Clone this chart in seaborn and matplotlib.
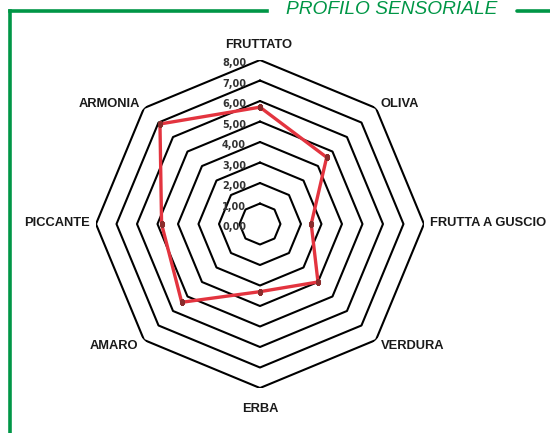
import numpy as np
import pandas as pd
import matplotlib
matplotlib.use("Agg")
import matplotlib.pyplot as plt
from matplotlib.lines import Line2D
import seaborn as sns

# data
categories = ["FRUTTATO", "OLIVA", "FRUTTA A GUSCIO", "VERDURA",
              "ERBA", "AMARO", "PICCANTE", "ARMONIA"]
values = [5.7, 4.6, 2.5, 4.0, 3.3, 5.4, 4.8, 6.9]
rings = [1, 2, 3, 4, 5, 6, 7, 8]
tick_labels = ["0,00", "1,00", "2,00", "3,00", "4,00", "5,00", "6,00", "7,00", "8,00"]
title = "PROFILO SENSORIALE"

GREEN = "#009646"
RED = "#e3343f"

sns.set_style("white")
plt.rcParams["font.family"] = ["Liberation Sans", "DejaVu Sans"]

fig = plt.figure(figsize=(5.5, 4.33), dpi=100)
ax = fig.add_axes([0.1745, 0.1039, 0.5964, 0.7575], projection="polar")
ax.set_theta_zero_location("N")
ax.set_theta_direction(-1)

n = len(categories)
theta = np.linspace(0, 2 * np.pi, n, endpoint=False)
theta_closed = np.append(theta, 2 * np.pi)

# octagonal grid
for k in rings:
    ax.plot(theta_closed, [k] * (n + 1), color="black", lw=1.5, zorder=1)

df = pd.DataFrame({"theta": theta_closed, "value": values + values[:1]})
sns.lineplot(data=df, x="theta", y="value", sort=False, ax=ax,
             color=RED, lw=2.4, marker="s", markersize=3.0,
             markerfacecolor="#8a2c2c", markeredgecolor="#8a2c2c", zorder=3)

ax.set_ylim(0, 8)
ax.grid(False)
ax.spines["polar"].set_visible(False)
ax.set_xticks([])
ax.set_yticks([])
ax.set_xlabel("")
ax.set_ylabel("")

# radial value labels
for i, lab in enumerate(tick_labels):
    ax.annotate(lab, xy=(0, i), xytext=(-10.0, -2.2), textcoords="offset points",
                ha="right", va="center", fontsize=7, fontweight="bold",
                color="#333333", family="DejaVu Sans", zorder=4)

# category labels: offsets in points from outer vertex
offsets = [(-1, 10.5, "center"), (3, 3, "left"), (4.5, 0.5, "left"),
           (3.5, -4, "left"), (0, -15, "center"), (-4, -4, "right"),
           (-4.5, 0.5, "right"), (-3, 3, "right")]
for t, lab, (dx, dy, ha) in zip(theta, categories, offsets):
    ax.annotate(lab, xy=(t, 8), xytext=(dx, dy), textcoords="offset points",
                ha=ha, va="center", fontsize=9.3, fontweight="bold",
                color="#1a1a1a", annotation_clip=False)

# green frame
H = 433.0
W = 550.0
ytop = 1 - 10.5 / H
fig.add_artist(Line2D([9.5 / W, 9.5 / W], [0, ytop], color=GREEN, lw=2.6,
                      solid_capstyle="projecting"))
fig.add_artist(Line2D([9.5 / W, 267 / W], [ytop, ytop], color=GREEN, lw=2.6,
                      solid_capstyle="projecting"))
fig.add_artist(Line2D([517 / W, 1], [ytop, ytop], color=GREEN, lw=2.6))
fig.text(286 / W, 1 - 14.0 / H, title, color=GREEN, fontsize=13.8,
         style="italic", family="Liberation Sans", ha="left", va="baseline")

fig.savefig("out.png", dpi=100)
